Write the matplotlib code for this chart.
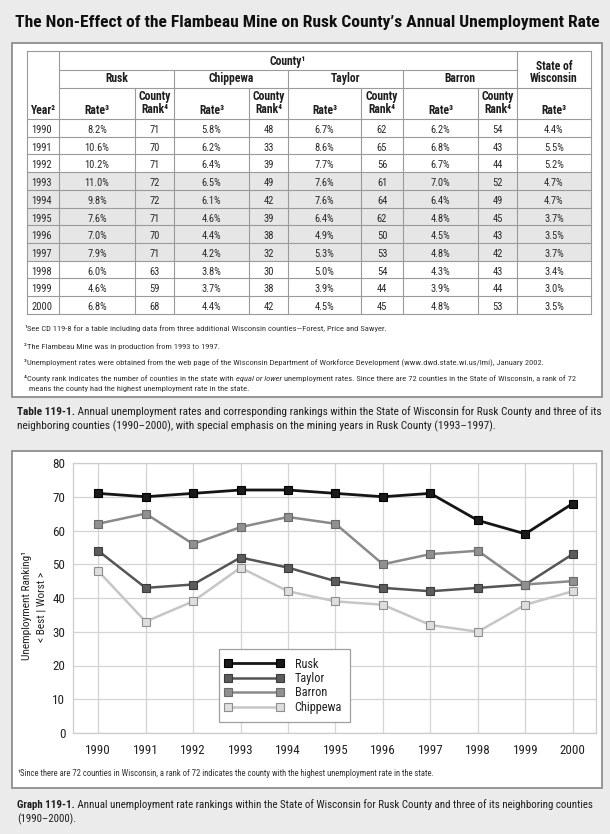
import matplotlib
matplotlib.use('Agg')
import matplotlib.pyplot as plt
from matplotlib.patches import Rectangle
from matplotlib.lines import Line2D
from matplotlib.legend_handler import HandlerLine2D
from matplotlib import font_manager as fm

W, H = 610, 834

# ---------- pick a narrow sans family if one is installed ----------
entries = fm.fontManager.ttflist
names = {f.name for f in entries}


def max_weight(n):
    best = 0
    for f in entries:
        if f.name == n:
            try:
                wv = int(f.weight)
            except (TypeError, ValueError):
                wv = {'bold': 700, 'heavy': 800, 'black': 900, 'semibold': 600,
                      'demibold': 600, 'extra bold': 800}.get(str(f.weight).lower(), 400)
            best = max(best, wv)
    return best


MAIN = None
STRETCH = 'normal'
for p in ['Liberation Sans Narrow', 'Roboto Condensed', 'Noto Sans Condensed', 'Open Sans Condensed',
          'Noto Sans SemiCondensed', 'Arial Narrow']:
    if p in names:
        MAIN = p
        break
if MAIN is None:
    cands = sorted(n for n in names if ('condensed' in n.lower() or 'narrow' in n.lower())
                   and not any(b in n.lower() for b in ('mono', 'serif', 'extra', 'ultra', 'cjk'))
                   and max_weight(n) >= 600)
    if cands:
        MAIN = cands[0]
if MAIN is None:
    if any(f.name == 'DejaVu Sans' and f.stretch == 'condensed' for f in entries):
        MAIN, STRETCH = 'DejaVu Sans', 'condensed'
    elif 'Liberation Sans' in names:
        MAIN = 'Liberation Sans'
    else:
        MAIN = 'DejaVu Sans'
plt.rcParams['font.family'] = [MAIN, 'DejaVu Sans']
plt.rcParams['font.stretch'] = STRETCH
TITLE_WEIGHT = 900 if max_weight(MAIN) >= 800 else 'bold'

# ---------------- data ----------------
years = [1990, 1991, 1992, 1993, 1994, 1995, 1996, 1997, 1998, 1999, 2000]
rusk_rate = [8.2, 10.6, 10.2, 11.0, 9.8, 7.6, 7.0, 7.9, 6.0, 4.6, 6.8]
rusk_rank = [71, 70, 71, 72, 72, 71, 70, 71, 63, 59, 68]
chip_rate = [5.8, 6.2, 6.4, 6.5, 6.1, 4.6, 4.4, 4.2, 3.8, 3.7, 4.4]
chip_rank = [48, 33, 39, 49, 42, 39, 38, 32, 30, 38, 42]
taylor_rate = [6.7, 8.6, 7.7, 7.6, 7.6, 6.4, 4.9, 5.3, 5.0, 3.9, 4.5]
taylor_rank = [62, 65, 56, 61, 64, 62, 50, 53, 54, 44, 45]
barron_rate = [6.2, 6.8, 6.7, 7.0, 6.4, 4.8, 4.5, 4.8, 4.3, 3.9, 4.8]
barron_rank = [54, 43, 44, 52, 49, 45, 43, 42, 43, 44, 53]
wi_rate = [4.4, 5.5, 5.2, 4.7, 4.7, 3.7, 3.5, 3.7, 3.4, 3.0, 3.5]
mine_years = [1993, 1994, 1995, 1996, 1997]
county_names = ['Rusk', 'Chippewa', 'Taylor', 'Barron']

# graph series as printed in the source (its legend labels Taylor/Barron that way)
graph_labels = ['Rusk', 'Taylor', 'Barron', 'Chippewa']
graph_values = [rusk_rank, barron_rank, taylor_rank, chip_rank]
y_ticks = [0, 10, 20, 30, 40, 50, 60, 70, 80]

title = "The Non-Effect of the Flambeau Mine on Rusk County\u2019s Annual Unemployment Rate"
footnotes = [
    [("\u00b9", {}), ("See CD 119-8 for a table including data from three additional Wisconsin counties\u2014Forest, Price and Sawyer.", {})],
    [("\u00b2", {}), ("The Flambeau Mine was in production from 1993 to 1997.", {})],
    [("\u00b3", {}), ("Unemployment rates were obtained from the web page of the Wisconsin Department of Workforce Development (www.dwd.state.wi.us/lmi), January 2002.", {})],
    [("\u2074", {}), ("County rank indicates the number of counties in the state with ", {}), ("equal or lower", {'style': 'italic'}),
     (" unemployment rates. Since there are 72 counties in the State of Wisconsin, a rank of 72", {})],
    [("means the county had the highest unemployment rate in the state.", {})],
]
table_caption = [
    [("Table 119-1.", {'weight': 'bold'}), (" Annual unemployment rates and corresponding rankings within the State of Wisconsin for Rusk County and three of its", {})],
    [("neighboring counties (1990\u20132000), with special emphasis on the mining years in Rusk County (1993\u20131997).", {})],
]
graph_caption = [
    [("Graph 119-1.", {'weight': 'bold'}), (" Annual unemployment rate rankings within the State of Wisconsin for Rusk County and three of its neighboring counties", {})],
    [("(1990\u20132000).", {})],
]
graph_footnote = [[("\u00b9", {}), ("Since there are 72 counties in Wisconsin, a rank of 72 indicates the county with the highest unemployment rate in the state.", {})]]

# ---------------- figure ----------------
fig = plt.figure(figsize=(W / 100, H / 100), dpi=100, facecolor='#ebebeb')
ax0 = fig.add_axes([0, 0, 1, 1], zorder=0)
ax0.set_xlim(0, W)
ax0.set_ylim(H, 0)
ax0.axis('off')
R = fig.canvas.get_renderer()
TXT = '#1e1e1e'


def measure(txt, size, **kw):
    t = ax0.text(0, 0, txt, fontsize=size, **kw)
    w = t.get_window_extent(renderer=R).width
    t.remove()
    return w


def size_for(txt, target, **kw):
    return 10 * target / measure(txt, 10, **kw)


def draw_segs(x, y, segs, size, color=TXT):
    arts = []
    cx = x
    for txt, kw in segs:
        t = ax0.text(cx, y, txt, fontsize=size, va='baseline', ha='left', color=color, **kw)
        cx += t.get_window_extent(renderer=R).width
        arts.append(t)
    return arts, cx - x


def fit_segs(x, y, segs, size0, target, color=TXT):
    arts, w = draw_segs(x, y, segs, size0, color)
    for a in arts:
        a.remove()
    s = size0 * target / w
    draw_segs(x, y, segs, s, color)
    return s


# title
fit_segs(15, 27, [(title, {'weight': TITLE_WEIGHT})], 13, 582, color='#111111')

# panels
ax0.add_patch(Rectangle((12, 43), 590, 354, fc='white', ec='#8f8f8f', lw=1.3, zorder=1))
ax0.add_patch(Rectangle((12, 451), 590, 337, fc='white', ec='#8f8f8f', lw=1.3, zorder=1))

# ---------------- table ----------------
cols = [27, 59, 135, 174, 249, 288, 361, 403, 478, 517, 591]
row0 = 119
rh = 17.7
rows = [row0 + i * rh for i in range(len(years) + 1)]
LC = '#9a9a9a'
LW = 0.8

for i, yr in enumerate(years):
    if yr in mine_years:
        ax0.add_patch(Rectangle((cols[0], rows[i]), cols[-1] - cols[0], rh, fc='#e6e6e6', ec='none', zorder=2))


def hl(y, x0, x1):
    ax0.add_line(Line2D([x0, x1], [y, y], color=LC, lw=LW, zorder=3))


def vl(x, y0, y1):
    ax0.add_line(Line2D([x, x], [y0, y1], color=LC, lw=LW, zorder=3))


hl(51, cols[0], cols[-1])
hl(70, cols[1], cols[9])
hl(88, cols[1], cols[-1])
for y in rows:
    hl(y, cols[0], cols[-1])
for x in [cols[0], cols[1], cols[9], cols[10]]:
    vl(x, 51, rows[-1])
for x in [cols[3], cols[5], cols[7]]:
    vl(x, 70, rows[-1])
for x in [cols[2], cols[4], cols[6], cols[8]]:
    vl(x, 88, rows[-1])

TS = min(8.2, size_for("1990", 20.5))
HS = min(8.5, size_for("Chippewa", 45, weight='bold'))
hb = dict(fontsize=HS, weight='bold', color=TXT, zorder=4)
ax0.text((cols[1] + cols[9]) / 2, 65, "County\u00b9", ha='center', va='baseline', **hb)
for k, name in enumerate(county_names):
    ax0.text((cols[1 + 2 * k] + cols[3 + 2 * k]) / 2, 82, name, ha='center', va='baseline', **hb)
    ax0.text((cols[1 + 2 * k] + cols[2 + 2 * k]) / 2, 114, "Rate\u00b3", ha='center', va='baseline', **hb)
    ax0.text((cols[2 + 2 * k] + cols[3 + 2 * k]) / 2, 100, "County", ha='center', va='baseline', **hb)
    ax0.text((cols[2 + 2 * k] + cols[3 + 2 * k]) / 2, 113, "Rank\u2074", ha='center', va='baseline', **hb)
ax0.text((cols[9] + cols[10]) / 2, 70, "State of", ha='center', va='baseline', **hb)
ax0.text((cols[9] + cols[10]) / 2, 82, "Wisconsin", ha='center', va='baseline', **hb)
ax0.text((cols[9] + cols[10]) / 2, 114, "Rate\u00b3", ha='center', va='baseline', **hb)
ax0.text(31, 114, "Year\u00b2", ha='left', va='baseline', **hb)

cell = dict(fontsize=TS, color='#2a2a2a', zorder=4, va='baseline')
series_cols = [rusk_rate, rusk_rank, chip_rate, chip_rank, taylor_rate, taylor_rank,
               barron_rate, barron_rank, wi_rate]
for i, yr in enumerate(years):
    yb = rows[i] + 14.0
    ax0.text(31, yb, str(yr), ha='left', **cell)
    for j, ser in enumerate(series_cols):
        v = ser[i]
        s = f"{v:.1f}%" if isinstance(v, float) else str(v)
        ax0.text((cols[1 + j] + cols[2 + j]) / 2, yb, s, ha='center', **cell)

# table footnotes
FC = '#333333'
fs = fit_segs(24, 365, footnotes[2], 6.3, 543 - 24, color=FC)
draw_segs(24, 331, footnotes[0], fs, color=FC)
draw_segs(24, 349, footnotes[1], fs, color=FC)
draw_segs(24, 381, footnotes[3], fs, color=FC)
draw_segs(29, 391, footnotes[4], fs, color=FC)

# captions
cs = fit_segs(17, 415, table_caption[0], 9, 600 - 17)
draw_segs(17, 429, table_caption[1], cs)
gs = fit_segs(17, 808, graph_caption[0], 9, 590 - 17)
draw_segs(17, 822, graph_caption[1], gs)
fit_segs(17, 776, graph_footnote[0], 6.3, 440 - 17, color=FC)

# ---------------- graph ----------------
GS = size_for("1990", 25.5)
LS = size_for("Chippewa", 47)
YS = size_for("Unemployment Ranking\u00b9", 109)

ax = fig.add_axes([73 / W, 1 - 733 / H, (596 - 73) / W, (733 - 463) / H], zorder=2)
ax.set_facecolor('white')
styles = [
    dict(color='#151515', mfc='#1a1a1a', mec='#000000', lw=2.0),
    dict(color='#555555', mfc='#5c5c5c', mec='#3c3c3c', lw=1.8),
    dict(color='#8a8a8a', mfc='#909090', mec='#6a6a6a', lw=1.8),
    dict(color='#c6c6c6', mfc='#dedede', mec='#8e8e8e', lw=1.8),
]
handles = []
for lab, vals, st in zip(graph_labels, graph_values, styles):
    h, = ax.plot(years, vals, marker='s', ms=5.2, mew=0.8, label=lab, zorder=3, **st)
    handles.append(h)

ax.set_xlim(1989.47, 2000.49)
ax.set_ylim(0, 80)
ax.set_xticks(years)
ax.set_yticks(y_ticks)
ax.grid(True, color='#d4d4d4', lw=0.9, zorder=0)
ax.set_axisbelow(True)
for sp in ax.spines.values():
    sp.set_color('#cccccc')
    sp.set_linewidth(0.9)
ax.tick_params(length=0, labelsize=GS, labelcolor='#222222')
ax.tick_params(axis='x', pad=8.0)
ax.tick_params(axis='y', pad=5.5)

fpx = LS * 100 / 72
leg = ax.legend(handles=handles, loc='upper left', bbox_to_anchor=(219 / W, 1 - 649 / H),
                bbox_transform=fig.transFigure, borderaxespad=0, frameon=True, fancybox=False,
                edgecolor='#a0a0a0', framealpha=1, handlelength=52 / fpx, handletextpad=15 / fpx,
                labelspacing=0.12, borderpad=0.7, numpoints=2, fontsize=LS,
                handler_map={Line2D: HandlerLine2D(marker_pad=0)})
leg.get_frame().set_linewidth(0.9)
for t in leg.get_texts():
    t.set_color('#222222')

ax0.text(27, 606, "Unemployment Ranking\u00b9", rotation=90, ha='center', va='center', fontsize=YS, color='#222222')
ax0.text(42, 607, "< Best | Worst >", rotation=90, ha='center', va='center', fontsize=YS, color='#222222')

fig.savefig('out.png', dpi=100, facecolor=fig.get_facecolor())
